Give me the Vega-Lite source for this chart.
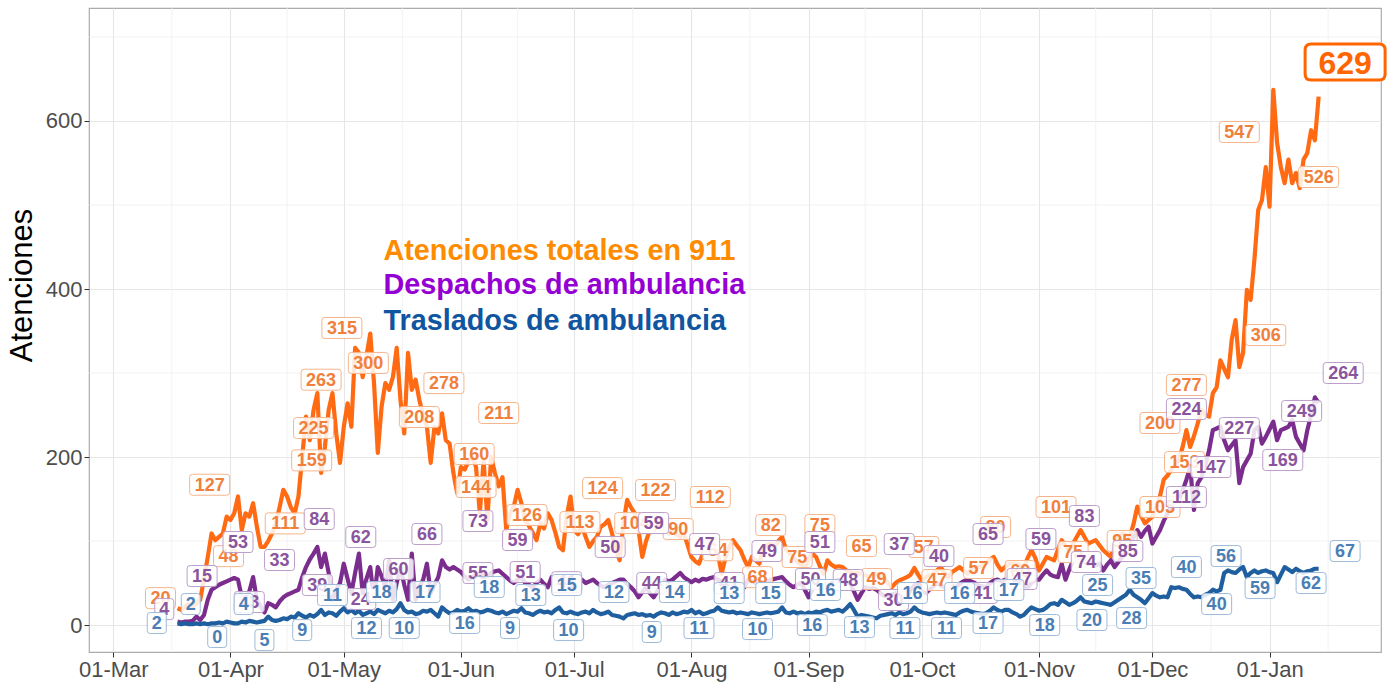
{
"$schema":"https://vega.github.io/schema/vega-lite/v6.json",
"width":1292,"height":644,
"autosize":{"type":"none"},
"padding":{"left":89,"top":8,"right":9,"bottom":30},
"background":"white",
"config":{"view":{"stroke":"#ABABAB","strokeWidth":1.2},"font":"Liberation Sans"},
"datasets":{
"main":[
{"d":"2020-03-18","o":20,"p":4,"b":2},{"d":"2020-03-19","o":18,"p":3,"b":1},{"d":"2020-03-20","o":22,"p":4,"b":2},{"d":"2020-03-21","o":25,"p":4,"b":1},{"d":"2020-03-22","o":22,"p":5,"b":1},{"d":"2020-03-23","o":26,"p":10,"b":2},{"d":"2020-03-24","o":30,"p":6,"b":1},{"d":"2020-03-25","o":55,"p":12,"b":2},{"d":"2020-03-26","o":81,"p":30,"b":1},{"d":"2020-03-27","o":109,"p":42,"b":2},{"d":"2020-03-28","o":101,"p":45,"b":2},{"d":"2020-03-29","o":105,"p":48,"b":3},{"d":"2020-03-30","o":109,"p":50,"b":2},{"d":"2020-03-31","o":129,"p":52,"b":4},
{"d":"2020-04-01","o":125,"p":54,"b":3},{"d":"2020-04-02","o":133,"p":56,"b":2},{"d":"2020-04-03","o":153,"p":54,"b":2},{"d":"2020-04-04","o":113,"p":33,"b":4},{"d":"2020-04-05","o":133,"p":30,"b":3},{"d":"2020-04-06","o":129,"p":40,"b":5},{"d":"2020-04-07","o":145,"p":57,"b":4},{"d":"2020-04-08","o":117,"p":30,"b":3},{"d":"2020-04-09","o":93,"p":22,"b":4},{"d":"2020-04-10","o":93,"p":15,"b":5},{"d":"2020-04-11","o":100,"p":26,"b":10},{"d":"2020-04-12","o":109,"p":24,"b":6},{"d":"2020-04-13","o":121,"p":21,"b":5},{"d":"2020-04-14","o":140,"p":28,"b":6},{"d":"2020-04-15","o":161,"p":33,"b":8},{"d":"2020-04-16","o":153,"p":36,"b":7},{"d":"2020-04-17","o":140,"p":38,"b":10},{"d":"2020-04-18","o":133,"p":40,"b":9},{"d":"2020-04-19","o":153,"p":42,"b":14},{"d":"2020-04-20","o":200,"p":57,"b":11},{"d":"2020-04-21","o":248,"p":69,"b":9},{"d":"2020-04-22","o":220,"p":78,"b":12},{"d":"2020-04-23","o":256,"p":85,"b":10},{"d":"2020-04-24","o":276,"p":93,"b":13},{"d":"2020-04-25","o":181,"p":69,"b":18},{"d":"2020-04-26","o":212,"p":85,"b":12},{"d":"2020-04-27","o":256,"p":62,"b":15},{"d":"2020-04-28","o":276,"p":30,"b":14},{"d":"2020-04-29","o":228,"p":42,"b":11},{"d":"2020-04-30","o":193,"p":50,"b":16},
{"d":"2020-05-01","o":236,"p":73,"b":20},{"d":"2020-05-02","o":264,"p":55,"b":15},{"d":"2020-05-03","o":236,"p":38,"b":18},{"d":"2020-05-04","o":330,"p":62,"b":14},{"d":"2020-05-05","o":324,"p":85,"b":17},{"d":"2020-05-06","o":295,"p":38,"b":12},{"d":"2020-05-07","o":320,"p":55,"b":14},{"d":"2020-05-08","o":347,"p":69,"b":16},{"d":"2020-05-09","o":288,"p":30,"b":13},{"d":"2020-05-10","o":205,"p":69,"b":18},{"d":"2020-05-11","o":260,"p":58,"b":16},{"d":"2020-05-12","o":288,"p":45,"b":14},{"d":"2020-05-13","o":280,"p":77,"b":17},{"d":"2020-05-14","o":295,"p":30,"b":15},{"d":"2020-05-15","o":330,"p":50,"b":19},{"d":"2020-05-16","o":268,"p":69,"b":26},{"d":"2020-05-17","o":228,"p":48,"b":18},{"d":"2020-05-18","o":324,"p":30,"b":15},{"d":"2020-05-19","o":280,"p":85,"b":16},{"d":"2020-05-20","o":292,"p":30,"b":13},{"d":"2020-05-21","o":268,"p":45,"b":14},{"d":"2020-05-22","o":250,"p":54,"b":17},{"d":"2020-05-23","o":236,"p":73,"b":16},{"d":"2020-05-24","o":193,"p":38,"b":18},{"d":"2020-05-25","o":236,"p":48,"b":14},{"d":"2020-05-26","o":228,"p":57,"b":10},{"d":"2020-05-27","o":252,"p":77,"b":21},{"d":"2020-05-28","o":220,"p":69,"b":17},{"d":"2020-05-29","o":216,"p":66,"b":14},{"d":"2020-05-30","o":181,"p":69,"b":15},{"d":"2020-05-31","o":157,"p":66,"b":18},
{"d":"2020-06-01","o":188,"p":63,"b":16},{"d":"2020-06-02","o":185,"p":58,"b":17},{"d":"2020-06-03","o":195,"p":54,"b":20},{"d":"2020-06-04","o":200,"p":57,"b":16},{"d":"2020-06-05","o":188,"p":60,"b":17},{"d":"2020-06-06","o":133,"p":62,"b":15},{"d":"2020-06-07","o":196,"p":60,"b":16},{"d":"2020-06-08","o":125,"p":57,"b":18},{"d":"2020-06-09","o":200,"p":62,"b":17},{"d":"2020-06-10","o":181,"p":64,"b":15},{"d":"2020-06-11","o":165,"p":65,"b":14},{"d":"2020-06-12","o":176,"p":61,"b":16},{"d":"2020-06-13","o":113,"p":57,"b":13},{"d":"2020-06-14","o":133,"p":53,"b":15},{"d":"2020-06-15","o":141,"p":50,"b":17},{"d":"2020-06-16","o":161,"p":54,"b":16},{"d":"2020-06-17","o":145,"p":57,"b":20},{"d":"2020-06-18","o":125,"p":50,"b":15},{"d":"2020-06-19","o":118,"p":48,"b":14},{"d":"2020-06-20","o":110,"p":45,"b":12},{"d":"2020-06-21","o":101,"p":50,"b":15},{"d":"2020-06-22","o":121,"p":54,"b":17},{"d":"2020-06-23","o":115,"p":49,"b":15},{"d":"2020-06-24","o":133,"p":45,"b":16},{"d":"2020-06-25","o":125,"p":57,"b":14},{"d":"2020-06-26","o":110,"p":55,"b":18},{"d":"2020-06-27","o":93,"p":54,"b":21},{"d":"2020-06-28","o":89,"p":51,"b":15},{"d":"2020-06-29","o":130,"p":49,"b":14},{"d":"2020-06-30","o":153,"p":52,"b":16},
{"d":"2020-07-01","o":113,"p":54,"b":14},{"d":"2020-07-02","o":108,"p":51,"b":13},{"d":"2020-07-03","o":117,"p":54,"b":15},{"d":"2020-07-04","o":105,"p":50,"b":16},{"d":"2020-07-05","o":93,"p":52,"b":14},{"d":"2020-07-06","o":100,"p":54,"b":18},{"d":"2020-07-07","o":105,"p":50,"b":15},{"d":"2020-07-08","o":117,"p":47,"b":13},{"d":"2020-07-09","o":120,"p":45,"b":14},{"d":"2020-07-10","o":125,"p":48,"b":16},{"d":"2020-07-11","o":109,"p":50,"b":12},{"d":"2020-07-12","o":90,"p":52,"b":11},{"d":"2020-07-13","o":77,"p":54,"b":10},{"d":"2020-07-14","o":121,"p":54,"b":8},{"d":"2020-07-15","o":149,"p":49,"b":12},{"d":"2020-07-16","o":140,"p":45,"b":13},{"d":"2020-07-17","o":133,"p":40,"b":14},{"d":"2020-07-18","o":113,"p":33,"b":12},{"d":"2020-07-19","o":81,"p":39,"b":13},{"d":"2020-07-20","o":100,"p":45,"b":11},{"d":"2020-07-21","o":113,"p":38,"b":12},{"d":"2020-07-22","o":113,"p":33,"b":10},{"d":"2020-07-23","o":118,"p":40,"b":13},{"d":"2020-07-24","o":125,"p":45,"b":15},{"d":"2020-07-25","o":118,"p":54,"b":14},{"d":"2020-07-26","o":109,"p":52,"b":12},{"d":"2020-07-27","o":113,"p":54,"b":15},{"d":"2020-07-28","o":108,"p":58,"b":13},{"d":"2020-07-29","o":105,"p":62,"b":14},{"d":"2020-07-30","o":109,"p":57,"b":16},{"d":"2020-07-31","o":95,"p":54,"b":15},
{"d":"2020-08-01","o":81,"p":51,"b":18},{"d":"2020-08-02","o":76,"p":54,"b":14},{"d":"2020-08-03","o":73,"p":52,"b":16},{"d":"2020-08-04","o":85,"p":55,"b":13},{"d":"2020-08-05","o":97,"p":54,"b":14},{"d":"2020-08-06","o":101,"p":56,"b":16},{"d":"2020-08-07","o":92,"p":57,"b":17},{"d":"2020-08-08","o":85,"p":54,"b":21},{"d":"2020-08-09","o":61,"p":52,"b":17},{"d":"2020-08-10","o":80,"p":51,"b":16},{"d":"2020-08-11","o":93,"p":50,"b":15},{"d":"2020-08-12","o":101,"p":48,"b":16},{"d":"2020-08-13","o":95,"p":50,"b":14},{"d":"2020-08-14","o":89,"p":46,"b":15},{"d":"2020-08-15","o":78,"p":45,"b":14},{"d":"2020-08-16","o":69,"p":54,"b":13},{"d":"2020-08-17","o":81,"p":52,"b":15},{"d":"2020-08-18","o":77,"p":50,"b":14},{"d":"2020-08-19","o":73,"p":53,"b":13},{"d":"2020-08-20","o":93,"p":50,"b":14},{"d":"2020-08-21","o":95,"p":52,"b":15},{"d":"2020-08-22","o":97,"p":54,"b":14},{"d":"2020-08-23","o":93,"p":55,"b":15},{"d":"2020-08-24","o":100,"p":56,"b":16},{"d":"2020-08-25","o":105,"p":57,"b":21},{"d":"2020-08-26","o":90,"p":52,"b":15},{"d":"2020-08-27","o":85,"p":48,"b":14},{"d":"2020-08-28","o":81,"p":45,"b":16},{"d":"2020-08-29","o":75,"p":48,"b":14},{"d":"2020-08-30","o":72,"p":50,"b":15},{"d":"2020-08-31","o":69,"p":42,"b":13},
{"d":"2020-09-01","o":78,"p":33,"b":15},{"d":"2020-09-02","o":85,"p":42,"b":14},{"d":"2020-09-03","o":81,"p":50,"b":16},{"d":"2020-09-04","o":70,"p":47,"b":15},{"d":"2020-09-05","o":61,"p":46,"b":17},{"d":"2020-09-06","o":77,"p":45,"b":18},{"d":"2020-09-07","o":72,"p":49,"b":16},{"d":"2020-09-08","o":69,"p":52,"b":17},{"d":"2020-09-09","o":70,"p":54,"b":18},{"d":"2020-09-10","o":69,"p":52,"b":16},{"d":"2020-09-11","o":65,"p":51,"b":20},{"d":"2020-09-12","o":63,"p":50,"b":25},{"d":"2020-09-13","o":61,"p":40,"b":18},{"d":"2020-09-14","o":62,"p":30,"b":10},{"d":"2020-09-15","o":61,"p":38,"b":12},{"d":"2020-09-16","o":59,"p":45,"b":11},{"d":"2020-09-17","o":57,"p":43,"b":10},{"d":"2020-09-18","o":60,"p":44,"b":9},{"d":"2020-09-19","o":61,"p":42,"b":8},{"d":"2020-09-20","o":58,"p":38,"b":11},{"d":"2020-09-21","o":57,"p":35,"b":12},{"d":"2020-09-22","o":50,"p":33,"b":13},{"d":"2020-09-23","o":45,"p":36,"b":14},{"d":"2020-09-24","o":50,"p":38,"b":12},{"d":"2020-09-25","o":53,"p":35,"b":15},{"d":"2020-09-26","o":55,"p":34,"b":13},{"d":"2020-09-27","o":57,"p":33,"b":14},{"d":"2020-09-28","o":60,"p":42,"b":16},{"d":"2020-09-29","o":68,"p":47,"b":21},{"d":"2020-09-30","o":60,"p":50,"b":17},
{"d":"2020-10-01","o":53,"p":44,"b":15},{"d":"2020-10-02","o":57,"p":38,"b":14},{"d":"2020-10-03","o":59,"p":42,"b":13},{"d":"2020-10-04","o":61,"p":46,"b":14},{"d":"2020-10-05","o":65,"p":50,"b":15},{"d":"2020-10-06","o":69,"p":47,"b":14},{"d":"2020-10-07","o":62,"p":45,"b":15},{"d":"2020-10-08","o":57,"p":43,"b":14},{"d":"2020-10-09","o":63,"p":46,"b":13},{"d":"2020-10-10","o":66,"p":45,"b":12},{"d":"2020-10-11","o":69,"p":49,"b":15},{"d":"2020-10-12","o":65,"p":52,"b":17},{"d":"2020-10-13","o":61,"p":54,"b":18},{"d":"2020-10-14","o":66,"p":52,"b":16},{"d":"2020-10-15","o":69,"p":50,"b":15},{"d":"2020-10-16","o":69,"p":47,"b":14},{"d":"2020-10-17","o":71,"p":46,"b":13},{"d":"2020-10-18","o":73,"p":45,"b":14},{"d":"2020-10-19","o":78,"p":50,"b":17},{"d":"2020-10-20","o":81,"p":53,"b":21},{"d":"2020-10-21","o":72,"p":54,"b":18},{"d":"2020-10-22","o":65,"p":52,"b":16},{"d":"2020-10-23","o":69,"p":54,"b":18},{"d":"2020-10-24","o":73,"p":55,"b":18},{"d":"2020-10-25","o":73,"p":53,"b":15},{"d":"2020-10-26","o":73,"p":57,"b":13},{"d":"2020-10-27","o":71,"p":51,"b":10},{"d":"2020-10-28","o":69,"p":47,"b":12},{"d":"2020-10-29","o":80,"p":45,"b":17},{"d":"2020-10-30","o":89,"p":50,"b":21},{"d":"2020-10-31","o":80,"p":54,"b":19},
{"d":"2020-11-01","o":65,"p":54,"b":17},{"d":"2020-11-02","o":73,"p":60,"b":18},{"d":"2020-11-03","o":81,"p":65,"b":21},{"d":"2020-11-04","o":79,"p":60,"b":25},{"d":"2020-11-05","o":77,"p":58,"b":26},{"d":"2020-11-06","o":90,"p":57,"b":24},{"d":"2020-11-07","o":101,"p":73,"b":30},{"d":"2020-11-08","o":95,"p":54,"b":27},{"d":"2020-11-09","o":89,"p":66,"b":24},{"d":"2020-11-10","o":97,"p":77,"b":26},{"d":"2020-11-11","o":105,"p":79,"b":29},{"d":"2020-11-12","o":113,"p":81,"b":33},{"d":"2020-11-13","o":105,"p":76,"b":28},{"d":"2020-11-14","o":97,"p":73,"b":27},{"d":"2020-11-15","o":99,"p":74,"b":26},{"d":"2020-11-16","o":101,"p":71,"b":28},{"d":"2020-11-17","o":95,"p":73,"b":27},{"d":"2020-11-18","o":89,"p":65,"b":26},{"d":"2020-11-19","o":85,"p":72,"b":25},{"d":"2020-11-20","o":81,"p":77,"b":24},{"d":"2020-11-21","o":95,"p":69,"b":27},{"d":"2020-11-22","o":105,"p":75,"b":30},{"d":"2020-11-23","o":109,"p":81,"b":33},{"d":"2020-11-24","o":107,"p":86,"b":36},{"d":"2020-11-25","o":105,"p":93,"b":42},{"d":"2020-11-26","o":120,"p":104,"b":36},{"d":"2020-11-27","o":141,"p":113,"b":33},{"d":"2020-11-28","o":130,"p":105,"b":30},{"d":"2020-11-29","o":121,"p":112,"b":26},{"d":"2020-11-30","o":125,"p":117,"b":32},
{"d":"2020-12-01","o":129,"p":97,"b":38},{"d":"2020-12-02","o":140,"p":105,"b":35},{"d":"2020-12-03","o":153,"p":113,"b":33},{"d":"2020-12-04","o":173,"p":124,"b":34},{"d":"2020-12-05","o":178,"p":133,"b":33},{"d":"2020-12-06","o":185,"p":141,"b":45},{"d":"2020-12-07","o":190,"p":145,"b":44},{"d":"2020-12-08","o":196,"p":149,"b":45},{"d":"2020-12-09","o":212,"p":160,"b":43},{"d":"2020-12-10","o":232,"p":173,"b":42},{"d":"2020-12-11","o":212,"p":188,"b":37},{"d":"2020-12-12","o":225,"p":137,"b":33},{"d":"2020-12-13","o":240,"p":169,"b":34},{"d":"2020-12-14","o":256,"p":176,"b":33},{"d":"2020-12-15","o":250,"p":190,"b":36},{"d":"2020-12-16","o":248,"p":208,"b":38},{"d":"2020-12-17","o":276,"p":232,"b":42},{"d":"2020-12-18","o":283,"p":234,"b":40},{"d":"2020-12-19","o":315,"p":236,"b":42},{"d":"2020-12-20","o":305,"p":220,"b":62},{"d":"2020-12-21","o":295,"p":208,"b":65},{"d":"2020-12-22","o":340,"p":214,"b":63},{"d":"2020-12-23","o":363,"p":220,"b":62},{"d":"2020-12-24","o":307,"p":169,"b":66},{"d":"2020-12-25","o":324,"p":188,"b":69},{"d":"2020-12-26","o":399,"p":196,"b":57},{"d":"2020-12-27","o":387,"p":204,"b":62},{"d":"2020-12-28","o":435,"p":232,"b":65},{"d":"2020-12-29","o":494,"p":236,"b":62},{"d":"2020-12-30","o":506,"p":216,"b":64},{"d":"2020-12-31","o":545,"p":224,"b":65},
{"d":"2021-01-01","o":498,"p":233,"b":63},{"d":"2021-01-02","o":637,"p":242,"b":62},{"d":"2021-01-03","o":574,"p":220,"b":51},{"d":"2021-01-04","o":545,"p":232,"b":60},{"d":"2021-01-05","o":526,"p":234,"b":69},{"d":"2021-01-06","o":554,"p":236,"b":66},{"d":"2021-01-07","o":526,"p":244,"b":63},{"d":"2021-01-08","o":538,"p":224,"b":67},{"d":"2021-01-09","o":520,"p":216,"b":64},{"d":"2021-01-10","o":554,"p":208,"b":62},{"d":"2021-01-11","o":562,"p":232,"b":64},{"d":"2021-01-12","o":589,"p":250,"b":65},{"d":"2021-01-13","o":577,"p":271,"b":67},{"d":"2021-01-14","o":629,"p":264,"b":67}
],
"lo":[
{"d":"2020-03-13T12:00:00Z","y":32,"t":"20"},{"d":"2020-03-31T12:00:00Z","y":82,"t":"48"},{"d":"2020-03-26T12:00:00Z","y":167,"t":"127"},{"d":"2020-04-15T12:00:00Z","y":121,"t":"111"},{"d":"2020-04-22T12:00:00Z","y":196,"t":"159"},{"d":"2020-04-23","y":234.5,"t":"225"},{"d":"2020-04-25","y":292,"t":"263"},{"d":"2020-04-30T12:00:00Z","y":353.6,"t":"315"},{"d":"2020-05-07T12:00:00Z","y":312,"t":"300"},{"d":"2020-05-27T12:00:00Z","y":288,"t":"278"},{"d":"2020-05-21","y":247.6,"t":"208"},{"d":"2020-06-11","y":252.4,"t":"211"},{"d":"2020-06-04T12:00:00Z","y":203.6,"t":"160"},{"d":"2020-06-05","y":164.3,"t":"144"},{"d":"2020-06-18T12:00:00Z","y":131,"t":"126"},{"d":"2020-07-02T12:00:00Z","y":122.6,"t":"113"},{"d":"2020-07-08T12:00:00Z","y":163,"t":"124"},{"d":"2020-07-17","y":121.4,"t":"104"},{"d":"2020-07-22T12:00:00Z","y":160.7,"t":"122"},{"d":"2020-07-28T12:00:00Z","y":114.3,"t":"90"},{"d":"2020-08-06","y":152.4,"t":"112"},{"d":"2020-08-08","y":89,"t":"64"},{"d":"2020-08-22","y":119,"t":"82"},{"d":"2020-08-18T12:00:00Z","y":57,"t":"68"},{"d":"2020-09-04","y":119,"t":"75"},{"d":"2020-08-29","y":81,"t":"75"},{"d":"2020-09-15","y":94,"t":"65"},{"d":"2020-09-19","y":54.8,"t":"49"},{"d":"2020-10-01T12:00:00Z","y":92.9,"t":"57"},{"d":"2020-10-05","y":53.6,"t":"47"},{"d":"2020-10-16","y":67.9,"t":"57"},{"d":"2020-10-20T12:00:00Z","y":116.7,"t":"80"},{"d":"2020-10-27","y":64.3,"t":"60"},{"d":"2020-11-05T12:00:00Z","y":140.5,"t":"101"},{"d":"2020-11-10","y":86.9,"t":"75"},{"d":"2020-11-23","y":100,"t":"95"},{"d":"2020-12-03","y":140.5,"t":"105"},{"d":"2020-12-03","y":240.5,"t":"200"},{"d":"2020-12-10","y":285.7,"t":"277"},{"d":"2020-12-09T12:00:00Z","y":194,"t":"153"},{"d":"2020-12-31","y":345.2,"t":"306"},{"d":"2020-12-24","y":586.9,"t":"547"},{"d":"2021-01-14","y":533.3,"t":"526"}
],
"lp":[
{"d":"2020-03-14T12:00:00Z","y":19,"t":"4"},{"d":"2020-03-24T12:00:00Z","y":58.3,"t":"15"},{"d":"2020-04-03","y":98.8,"t":"53"},{"d":"2020-04-06","y":27.4,"t":"43"},{"d":"2020-04-14","y":77.4,"t":"33"},{"d":"2020-04-24T12:00:00Z","y":126.2,"t":"84"},{"d":"2020-04-24","y":47.6,"t":"39"},{"d":"2020-05-05T12:00:00Z","y":104.8,"t":"62"},{"d":"2020-05-05T12:00:00Z","y":31,"t":"24"},{"d":"2020-05-15T12:00:00Z","y":66.7,"t":"60"},{"d":"2020-05-23","y":108.3,"t":"66"},{"d":"2020-06-05T12:00:00Z","y":123.8,"t":"73"},{"d":"2020-06-05T12:00:00Z","y":61.9,"t":"55"},{"d":"2020-06-16","y":101.2,"t":"59"},{"d":"2020-06-18","y":63.1,"t":"51"},{"d":"2020-06-29","y":51,"t":"41"},{"d":"2020-07-10T12:00:00Z","y":92.9,"t":"50"},{"d":"2020-07-22","y":121.4,"t":"59"},{"d":"2020-07-21T12:00:00Z","y":50,"t":"44"},{"d":"2020-08-04T12:00:00Z","y":96.4,"t":"47"},{"d":"2020-08-11","y":50,"t":"41"},{"d":"2020-08-21","y":88.1,"t":"49"},{"d":"2020-09-04","y":98.8,"t":"51"},{"d":"2020-09-01T12:00:00Z","y":54.8,"t":"50"},{"d":"2020-09-11T12:00:00Z","y":53.6,"t":"48"},{"d":"2020-09-25","y":96.4,"t":"37"},{"d":"2020-09-23T12:00:00Z","y":29.8,"t":"30"},{"d":"2020-10-05T12:00:00Z","y":82.1,"t":"40"},{"d":"2020-10-18T12:00:00Z","y":108.3,"t":"65"},{"d":"2020-10-17","y":38.1,"t":"41"},{"d":"2020-10-27T12:00:00Z","y":54.8,"t":"47"},{"d":"2020-11-01T12:00:00Z","y":102.4,"t":"59"},{"d":"2020-11-13","y":129.8,"t":"83"},{"d":"2020-11-13T12:00:00Z","y":75,"t":"74"},{"d":"2020-11-24T12:00:00Z","y":88.1,"t":"85"},{"d":"2020-12-10","y":152.4,"t":"112"},{"d":"2020-12-10","y":257.1,"t":"224"},{"d":"2020-12-16T12:00:00Z","y":188.1,"t":"147"},{"d":"2020-12-24","y":234.5,"t":"227"},{"d":"2021-01-04T12:00:00Z","y":196.4,"t":"169"},{"d":"2021-01-09T12:00:00Z","y":254.8,"t":"249"},{"d":"2021-01-20T12:00:00Z","y":300,"t":"264"}
],
"lb":[
{"d":"2020-03-12T12:00:00Z","y":2.4,"t":"2"},{"d":"2020-03-21T12:00:00Z","y":25,"t":"2"},{"d":"2020-03-28T12:00:00Z","y":-14.3,"t":"0"},{"d":"2020-04-04T12:00:00Z","y":25,"t":"4"},{"d":"2020-04-10","y":-17.9,"t":"5"},{"d":"2020-04-20","y":-6,"t":"9"},{"d":"2020-04-28","y":35.7,"t":"11"},{"d":"2020-05-07","y":-3.6,"t":"12"},{"d":"2020-05-11","y":39.3,"t":"18"},{"d":"2020-05-17","y":-3.6,"t":"10"},{"d":"2020-05-22T12:00:00Z","y":39.3,"t":"17"},{"d":"2020-06-02","y":2.4,"t":"16"},{"d":"2020-06-08T12:00:00Z","y":45.2,"t":"18"},{"d":"2020-06-14","y":-3.6,"t":"9"},{"d":"2020-06-19T12:00:00Z","y":35.7,"t":"13"},{"d":"2020-06-29","y":47.6,"t":"15"},{"d":"2020-06-29T12:00:00Z","y":-6,"t":"10"},{"d":"2020-07-11T12:00:00Z","y":39.3,"t":"12"},{"d":"2020-07-21T12:00:00Z","y":-8.3,"t":"9"},{"d":"2020-07-27T12:00:00Z","y":39.3,"t":"14"},{"d":"2020-08-03","y":-3.6,"t":"11"},{"d":"2020-08-11","y":38.1,"t":"13"},{"d":"2020-08-18T12:00:00Z","y":-4.8,"t":"10"},{"d":"2020-08-22","y":38.1,"t":"15"},{"d":"2020-09-02","y":0,"t":"16"},{"d":"2020-09-05T12:00:00Z","y":41.7,"t":"16"},{"d":"2020-09-14T12:00:00Z","y":-2.4,"t":"13"},{"d":"2020-09-26T12:00:00Z","y":-3.6,"t":"11"},{"d":"2020-09-28T12:00:00Z","y":38.1,"t":"16"},{"d":"2020-10-07T12:00:00Z","y":-3.6,"t":"11"},{"d":"2020-10-11","y":38.1,"t":"16"},{"d":"2020-10-18T12:00:00Z","y":2.4,"t":"17"},{"d":"2020-10-24","y":41.7,"t":"17"},{"d":"2020-11-02T12:00:00Z","y":0,"t":"18"},{"d":"2020-11-15","y":6,"t":"20"},{"d":"2020-11-16T12:00:00Z","y":47.6,"t":"25"},{"d":"2020-11-25T12:00:00Z","y":8.3,"t":"28"},{"d":"2020-11-28","y":56,"t":"35"},{"d":"2020-12-10","y":69,"t":"40"},{"d":"2020-12-18","y":25,"t":"40"},{"d":"2020-12-20T12:00:00Z","y":82.1,"t":"56"},{"d":"2020-12-29T12:00:00Z","y":44,"t":"59"},{"d":"2021-01-12","y":50,"t":"62"},{"d":"2021-01-21","y":88.1,"t":"67"}
],
"big":[{"d":"2021-01-21","y":670.2,"t":"629"}],
"leg":[{"d":"2020-05-11T12:00:00Z","y":445,"s":"o","t":"Atenciones totales en 911"},{"d":"2020-05-11T12:00:00Z","y":405,"s":"p","t":"Despachos de ambulancia"},{"d":"2020-05-11T12:00:00Z","y":362,"s":"b","t":"Traslados de ambulancia"}],
"minx":[{"d":"2020-03-16T12:00:00Z"},{"d":"2020-04-16"},{"d":"2020-05-16T12:00:00Z"},{"d":"2020-06-16"},{"d":"2020-07-16T12:00:00Z"},{"d":"2020-08-16T12:00:00Z"},{"d":"2020-09-16"},{"d":"2020-10-16T12:00:00Z"},{"d":"2020-11-16"},{"d":"2020-12-16T12:00:00Z"},{"d":"2021-01-16T12:00:00Z"}],
"miny":[{"v":100},{"v":300},{"v":500},{"v":700}]
},
"layer":[
{"data":{"name":"minx"},"mark":{"type":"rule","color":"#EFEFEF","strokeWidth":0.8},
 "encoding":{"x":{"field":"d","type":"temporal","title":null,
   "scale":{"type":"utc","domain":[{"year":2020,"month":2,"date":23,"hours":13,"minutes":40,"utc":true},{"year":2021,"month":1,"date":30,"hours":12,"utc":true}]},
   "axis":{"values":[{"year":2020,"month":3,"date":1,"utc":true},{"year":2020,"month":4,"date":1,"utc":true},{"year":2020,"month":5,"date":1,"utc":true},{"year":2020,"month":6,"date":1,"utc":true},{"year":2020,"month":7,"date":1,"utc":true},{"year":2020,"month":8,"date":1,"utc":true},{"year":2020,"month":9,"date":1,"utc":true},{"year":2020,"month":10,"date":1,"utc":true},{"year":2020,"month":11,"date":1,"utc":true},{"year":2020,"month":12,"date":1,"utc":true},{"year":2021,"month":1,"date":1,"utc":true}],
     "format":"%d-%b","title":null,"labelFontSize":22,"labelColor":"#4D4D4D","labelFont":"Liberation Sans","tickColor":"#333333","tickSize":5,"labelPadding":2,"domain":false,"grid":true,"gridColor":"#E6E6E6","gridWidth":1.1,"labelFlush":false,"labelOverlap":false}}}},
{"data":{"name":"miny"},"mark":{"type":"rule","color":"#EFEFEF","strokeWidth":0.8},
 "encoding":{"y":{"field":"v","type":"quantitative","title":"Atenciones",
   "scale":{"domain":[-32.1,734.5],"nice":false,"zero":false},
   "axis":{"values":[0,200,400,600],"title":"Atenciones","titleFontSize":31,"titleFontWeight":"normal","titleColor":"#000000","titleFont":"Liberation Sans","titlePadding":7,"titleY":277,"labelFontSize":22,"labelColor":"#4D4D4D","labelFont":"Liberation Sans","tickColor":"#333333","tickSize":5,"labelPadding":2,"domain":false,"grid":true,"gridColor":"#E6E6E6","gridWidth":1.1}}}},
{"data":{"name":"main"},"mark":{"type":"line","color":"#FF6A13","strokeWidth":4.2,"strokeJoin":"round"},
 "encoding":{"x":{"field":"d","type":"temporal"},"y":{"field":"o","type":"quantitative","title":"Atenciones"}}},
{"data":{"name":"main"},"mark":{"type":"line","color":"#7B2D8E","strokeWidth":4.2,"strokeJoin":"round"},
 "encoding":{"x":{"field":"d","type":"temporal"},"y":{"field":"p","type":"quantitative","title":"Atenciones"}}},
{"data":{"name":"main"},"mark":{"type":"line","color":"#1F5FA0","strokeWidth":4.2,"strokeJoin":"round"},
 "encoding":{"x":{"field":"d","type":"temporal"},"y":{"field":"b","type":"quantitative","title":"Atenciones"}}},
{"data":{"name":"lo"},"mark":{"type":"point","filled":true,"fill":"white","fillOpacity":0.85,"stroke":"#F5B58C","strokeWidth":1,"size":1600,"opacity":1},
 "encoding":{"x":{"field":"d","type":"temporal"},"y":{"field":"y","type":"quantitative","title":"Atenciones"},
  "shape":{"condition":[{"test":"length(datum.t)==3","value":"M-0.85,-0.525L0.85,-0.525Q1,-0.525,1,-0.375L1,0.375Q1,0.525,0.85,0.525L-0.85,0.525Q-1,0.525,-1,0.375L-1,-0.375Q-1,-0.525,-0.85,-0.525Z"},{"test":"length(datum.t)==2","value":"M-0.6,-0.525L0.6,-0.525Q0.75,-0.525,0.75,-0.375L0.75,0.375Q0.75,0.525,0.6,0.525L-0.6,0.525Q-0.75,0.525,-0.75,0.375L-0.75,-0.375Q-0.75,-0.525,-0.6,-0.525Z"}],"value":"M-0.325,-0.525L0.325,-0.525Q0.475,-0.525,0.475,-0.375L0.475,0.375Q0.475,0.525,0.325,0.525L-0.325,0.525Q-0.475,0.525,-0.475,0.375L-0.475,-0.375Q-0.475,-0.525,-0.325,-0.525Z"}}},
{"data":{"name":"lo"},"mark":{"type":"text","font":"Liberation Sans","fontWeight":"bold","fontSize":18,"color":"#F0803C","baseline":"middle","align":"center","dy":1},
 "encoding":{"x":{"field":"d","type":"temporal"},"y":{"field":"y","type":"quantitative","title":"Atenciones"},"text":{"field":"t"}}},
{"data":{"name":"lp"},"mark":{"type":"point","filled":true,"fill":"white","fillOpacity":0.85,"stroke":"#BC9ECA","strokeWidth":1,"size":1600,"opacity":1},
 "encoding":{"x":{"field":"d","type":"temporal"},"y":{"field":"y","type":"quantitative","title":"Atenciones"},
  "shape":{"condition":[{"test":"length(datum.t)==3","value":"M-0.85,-0.525L0.85,-0.525Q1,-0.525,1,-0.375L1,0.375Q1,0.525,0.85,0.525L-0.85,0.525Q-1,0.525,-1,0.375L-1,-0.375Q-1,-0.525,-0.85,-0.525Z"},{"test":"length(datum.t)==2","value":"M-0.6,-0.525L0.6,-0.525Q0.75,-0.525,0.75,-0.375L0.75,0.375Q0.75,0.525,0.6,0.525L-0.6,0.525Q-0.75,0.525,-0.75,0.375L-0.75,-0.375Q-0.75,-0.525,-0.6,-0.525Z"}],"value":"M-0.325,-0.525L0.325,-0.525Q0.475,-0.525,0.475,-0.375L0.475,0.375Q0.475,0.525,0.325,0.525L-0.325,0.525Q-0.475,0.525,-0.475,0.375L-0.475,-0.375Q-0.475,-0.525,-0.325,-0.525Z"}}},
{"data":{"name":"lp"},"mark":{"type":"text","font":"Liberation Sans","fontWeight":"bold","fontSize":18,"color":"#8A559D","baseline":"middle","align":"center","dy":1},
 "encoding":{"x":{"field":"d","type":"temporal"},"y":{"field":"y","type":"quantitative","title":"Atenciones"},"text":{"field":"t"}}},
{"data":{"name":"lb"},"mark":{"type":"point","filled":true,"fill":"white","fillOpacity":0.85,"stroke":"#9DBAD8","strokeWidth":1,"size":1600,"opacity":1},
 "encoding":{"x":{"field":"d","type":"temporal"},"y":{"field":"y","type":"quantitative","title":"Atenciones"},
  "shape":{"condition":[{"test":"length(datum.t)==3","value":"M-0.85,-0.525L0.85,-0.525Q1,-0.525,1,-0.375L1,0.375Q1,0.525,0.85,0.525L-0.85,0.525Q-1,0.525,-1,0.375L-1,-0.375Q-1,-0.525,-0.85,-0.525Z"},{"test":"length(datum.t)==2","value":"M-0.6,-0.525L0.6,-0.525Q0.75,-0.525,0.75,-0.375L0.75,0.375Q0.75,0.525,0.6,0.525L-0.6,0.525Q-0.75,0.525,-0.75,0.375L-0.75,-0.375Q-0.75,-0.525,-0.6,-0.525Z"}],"value":"M-0.325,-0.525L0.325,-0.525Q0.475,-0.525,0.475,-0.375L0.475,0.375Q0.475,0.525,0.325,0.525L-0.325,0.525Q-0.475,0.525,-0.475,0.375L-0.475,-0.375Q-0.475,-0.525,-0.325,-0.525Z"}}},
{"data":{"name":"lb"},"mark":{"type":"text","font":"Liberation Sans","fontWeight":"bold","fontSize":18,"color":"#4A7EB4","baseline":"middle","align":"center","dy":1},
 "encoding":{"x":{"field":"d","type":"temporal"},"y":{"field":"y","type":"quantitative","title":"Atenciones"},"text":{"field":"t"}}},
{"data":{"name":"big"},"mark":{"type":"point","filled":true,"fill":"white","fillOpacity":1,"stroke":"#FF6600","strokeWidth":3,"size":6400,"opacity":1,"shape":"M-0.85,-0.45L0.85,-0.45Q1,-0.45,1,-0.3L1,0.3Q1,0.45,0.85,0.45L-0.85,0.45Q-1,0.45,-1,0.3L-1,-0.3Q-1,-0.45,-0.85,-0.45Z"},
 "encoding":{"x":{"field":"d","type":"temporal"},"y":{"field":"y","type":"quantitative","title":"Atenciones"}}},
{"data":{"name":"big"},"mark":{"type":"text","font":"Liberation Sans","fontWeight":"bold","fontSize":32,"color":"#FF6600","baseline":"middle","align":"center","dy":2},
 "encoding":{"x":{"field":"d","type":"temporal"},"y":{"field":"y","type":"quantitative","title":"Atenciones"},"text":{"field":"t"}}},
{"data":{"name":"leg"},"mark":{"type":"text","font":"Liberation Sans","fontWeight":"bold","fontSize":28.8,"baseline":"middle","align":"left"},
 "encoding":{"x":{"field":"d","type":"temporal"},"y":{"field":"y","type":"quantitative","title":"Atenciones"},"text":{"field":"t"},
  "color":{"condition":[{"test":"datum.s=='o'","value":"#FF8C00"},{"test":"datum.s=='p'","value":"#9400D3"}],"value":"#0F559F"}}}
]
}
